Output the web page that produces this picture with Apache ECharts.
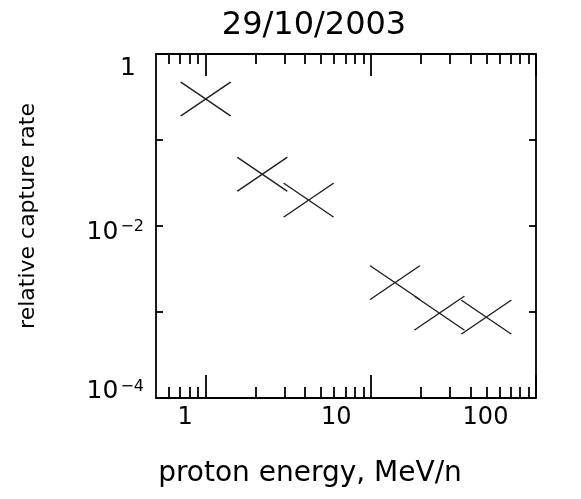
<!DOCTYPE html>
<html>
<head>
<meta charset="utf-8">
<script src="https://cdn.jsdelivr.net/npm/echarts@6/dist/echarts.min.js"></script>
<style>html,body{margin:0;padding:0;background:#fff;}#c{width:581px;height:499px;}</style>
</head>
<body>
<div id="c"></div>
<script>
// ---- data ----
const titleText = '29/10/2003';
const energy = [1.0, 2.2, 4.2, 14, 26, 50];          // MeV/n
const rate   = [0.30, 0.040, 0.020, 0.0022, 0.00097, 0.00087];
const xMajorTicks = [1, 10, 100];
const xMinorTicks = [0.6, 0.7, 0.8, 0.9, 2, 3, 4, 5, 6, 7, 8, 9, 20, 30, 40, 50, 60, 70, 80, 90];
const xTickLabels = [1, 10, 100];
const yTicks = [1e-4, 1e-3, 1e-2, 1e-1, 1];
const yTickLabels = [1e-4, 1e-2, 1];
const xName = 'proton energy, MeV/n';
const yName = 'relative capture rate';

const FONT = 'DejaVu Sans';
const INK = '#000';

const chart = echarts.init(document.getElementById('c'), null, {renderer: 'canvas'});

function xAxisDef(pos, ticks, len, withLine, withLabels) {
  return {
    type: 'log', logBase: 10, min: 0.5, max: 100, position: pos,
    axisLine: {show: withLine, lineStyle: {color: INK, width: 1.8}},
    axisTick: {show: true, inside: true, length: len, customValues: ticks, lineStyle: {color: INK, width: 1.8}},
    splitLine: {show: false}, minorTick: {show: false},
    axisLabel: withLabels ? {
      show: true, customValues: xTickLabels, margin: 8, color: INK,
      fontFamily: FONT, fontSize: 24,
      formatter: function (v) {
        const e = Math.round(Math.log10(v));
        if (e === 0) return '{a|1}';
        if (e === 1) return '{b|10}';
        return '{c|100}';
      },
      rich: {
        a: {fontFamily: FONT, fontSize: 24, color: INK, padding: [0, 41, 0, 0]},
        b: {fontFamily: FONT, fontSize: 24, color: INK, padding: [0, 69, 0, 0]},
        c: {fontFamily: FONT, fontSize: 24, color: INK, padding: [0, 101, 0, 0]}
      }
    } : {show: false}
  };
}

function yAxisDef(pos, withLabels) {
  return {
    type: 'log', logBase: 10, min: 1e-4, max: 1, position: pos,
    axisLine: {show: true, lineStyle: {color: INK, width: 1.8}},
    axisTick: {show: true, inside: true, length: 7, customValues: yTicks, lineStyle: {color: INK, width: 1.8}},
    splitLine: {show: false}, minorTick: {show: false},
    axisLabel: withLabels ? {
      show: true, customValues: yTickLabels, margin: 12, color: INK,
      fontFamily: FONT, fontSize: 25,
      formatter: function (v) {
        const e = Math.round(Math.log10(v));
        if (e === 0) return '{one|1}';
        if (e === -2) return '{m2|10}{m2s|\u22122}';
        return '{m4|10}{m4s|\u22124}';
      },
      rich: {
        one: {fontFamily: FONT, fontSize: 25, color: INK, padding: [28, 8, 0, 0]},
        m2: {fontFamily: FONT, fontSize: 25, color: INK, padding: [12, 0, 0, 0]},
        m2s: {fontFamily: FONT, fontSize: 16, color: INK, verticalAlign: 'top', padding: [11, 0, 0, 2]},
        m4: {fontFamily: FONT, fontSize: 25, color: INK, padding: [0, 0, 14, 0]},
        m4s: {fontFamily: FONT, fontSize: 16, color: INK, verticalAlign: 'top', padding: [0, 0, 15, 2]}
      }
    } : {show: false}
  };
}

const xMain = xAxisDef('bottom', xMajorTicks, 23, true, true);
xMain.name = xName;
xMain.nameLocation = 'middle';
xMain.nameGap = 62;
xMain.nameTextStyle = {fontFamily: FONT, fontSize: 28, color: INK, padding: [0, 72, 0, 0]};

const yMain = yAxisDef('left', true);
yMain.name = yName;
yMain.nameLocation = 'middle';
yMain.nameGap = 117;
yMain.nameTextStyle = {fontFamily: FONT, fontSize: 22, color: INK, padding: [0, 0, 0, 20]};

const option = {
  backgroundColor: '#fff',
  animation: false,
  title: {
    text: titleText, left: 309, top: 5, textAlign: 'center',
    textStyle: {fontFamily: FONT, fontSize: 32, fontWeight: 'normal', color: INK}
  },
  grid: {left: 156, right: 45, top: 54, bottom: 101, containLabel: false, outerBoundsMode: 'none'},
  xAxis: [
    xMain,
    xAxisDef('bottom', xMinorTicks, 11, false, false),
    xAxisDef('top', xMajorTicks, 22, true, false),
    xAxisDef('top', xMinorTicks, 10, false, false)
  ],
  yAxis: [yMain, yAxisDef('right', false)],
  series: [{
    type: 'scatter',
    xAxisIndex: 0, yAxisIndex: 0,
    data: energy.map((e, i) => [e, rate[i]]),
    symbol: 'path://M0,0L50,34M0,34L50,0',
    symbolSize: [50, 34],
    symbolKeepAspect: false,
    itemStyle: {color: 'none', borderColor: '#222', borderWidth: 1.4, opacity: 1},
    emphasis: {disabled: true},
    silent: true
  }]
};
chart.setOption(option);
</script>
</body>
</html>
